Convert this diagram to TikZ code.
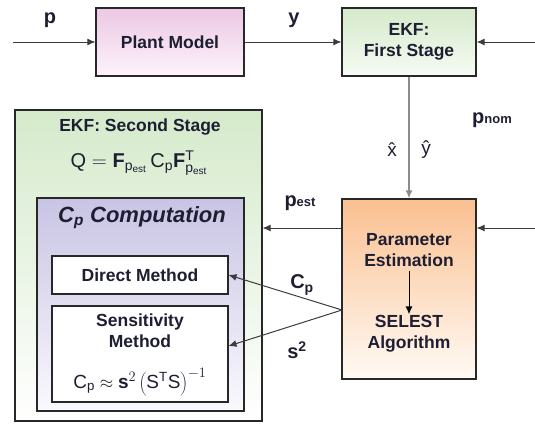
\documentclass[tikz,border=0pt]{standalone}
\usepackage{fontspec}
\setmainfont{Liberation Sans}
\usetikzlibrary{arrows.meta}
\begin{document}
\begin{tikzpicture}[x=1pt,y=-1pt,
    box/.style={draw=boxline,line width=1.1pt,inner sep=0pt,text=txt,
      font=\fontsize{17.5}{21}\selectfont\bfseries,align=center},
    boxtext/.style={text=txt,font=\fontsize{17.5}{21}\selectfont\bfseries,align=center,inner sep=1pt},
    flow/.style={draw=wire,line width=1pt,-{Latex[length=8pt,width=7pt]}},
    lbl/.style={text=txt,font=\fontsize{20}{22}\selectfont\bfseries}]
  \definecolor{boxline}{RGB}{40,40,40}
  \definecolor{wire}{RGB}{60,60,60}
  \definecolor{txt}{RGB}{30,30,50}
  \definecolor{pinktop}{RGB}{236,200,228}
  \definecolor{pinkbot}{RGB}{253,243,251}
  \definecolor{greentop}{RGB}{213,234,203}
  \definecolor{greenbot}{RGB}{246,251,244}
  \definecolor{violettop}{RGB}{200,196,228}
  \definecolor{violetbot}{RGB}{250,249,253}
  \definecolor{orangetop}{RGB}{250,192,144}
  \definecolor{orangebot}{RGB}{255,250,245}
  \useasboundingbox (0,0) rectangle (535,423);
  % top row
  \node[box,minimum width=148pt,minimum height=68pt,
    top color=pinktop,bottom color=pinkbot] (plant) at (170,42) {Plant Model};
  \node[box,minimum width=134pt,minimum height=68pt,
    top color=greentop,bottom color=greenbot] (ekfone) at (409,42) {EKF:\\First Stage};
  % second stage
  \node[box,minimum width=247pt,minimum height=311pt,
    top color=greentop,bottom color=white] (ekftwo) at (138.5,265.5) {};
  \node[boxtext] (ekftwotitle) at (140,127) {EKF: Second Stage};
  \node[text=txt,font=\fontsize{20}{22}\selectfont,inner sep=0pt] (qformula) at (139,163)
    {$\mathrm{Q}=\mathbf{F}_{\mathrm{p}_{\mathrm{est}}}\,\mathrm{C}_{\mathrm{p}}\mathbf{F}^{\mathrm{T}}_{\mathrm{p}_{\mathrm{est}}}$};
  \node[box,minimum width=207pt,minimum height=213pt,
    top color=violettop,bottom color=violetbot] (cpbox) at (140.5,304.5) {};
  \node[text=txt,font=\fontsize{22}{24}\selectfont\bfseries\itshape] (cptitle) at (142,218)
    {C\textsubscript{p} Computation};
  \node[box,fill=white,minimum width=176pt,minimum height=38pt] (direct) at (140,275) {Direct Method};
  \node[box,fill=white,minimum width=176pt,minimum height=96pt] (sens) at (140,354) {};
  \node[boxtext] (senstext) at (140,331) {Sensitivity\\Method};
  \node[text=txt,font=\fontsize{19}{21}\selectfont,inner sep=1pt] (sformula) at (140,382)
    {$\mathrm{C}_{\mathrm{p}}\approx\mathbf{s}^{2}\left(\mathrm{S}^{\mathrm{T}}\mathrm{S}\right)^{-1}$};
  % parameter estimation
  \node[box,minimum width=134pt,minimum height=180pt,
    top color=orangetop,bottom color=orangebot] (param) at (409,289) {};
  \node[boxtext] (paramtext) at (409,250) {Parameter\\Estimation};
  \node[boxtext] (selest) at (409,334) {SELEST\\Algorithm};
  \draw[flow,draw=black] (paramtext.south) ++(0,3) coordinate (pa) (pa) -- (selest.north);
  % free ends
  \coordinate (pin) at (13,42);
  \coordinate (nomin) at (535,42);
  \coordinate (rin) at (535,228);
  \coordinate (split) at (342,310);
  % connectors
  \draw[flow] (pin) -- (plant.west);
  \draw[flow] (plant.east) -- (ekfone.west);
  \draw[flow] (nomin) -- (ekfone.east);
  \draw[flow,draw=gray!90,line width=1.6pt] (ekfone.south) -- (param.north);
  \draw[flow] (rin) -- (param.east |- rin);
  \draw[flow] (param.west |- rin) -- (ekftwo.east |- rin);
  \draw[flow] (split) -- (direct.east);
  \draw[flow] (split) -- ([yshift=8pt]sens.east);
  % labels
  \node[lbl] (plbl) at (50,20) {p};
  \node[lbl] (ylbl) at (294,20) {y};
  \node[lbl] (nomlbl) at (492,120) {p{\fontsize{13}{13}\selectfont nom}};
  \node[text=txt,font=\fontsize{19}{20}\selectfont,inner sep=0pt] (xhat) at (392,150) {x^^^^0302};
  \node[text=txt,font=\fontsize{19}{20}\selectfont,inner sep=0pt] (yhat) at (426,150) {y^^^^0302};
  \node[lbl] (estlbl) at (300,203) {p{\fontsize{13}{13}\selectfont est}};
  \node[lbl] (cplbl) at (302,285) {C\textsubscript{p}};
  \node[lbl] (slbl) at (297,350) {s\textsuperscript{2}};
\end{tikzpicture}
\end{document}
